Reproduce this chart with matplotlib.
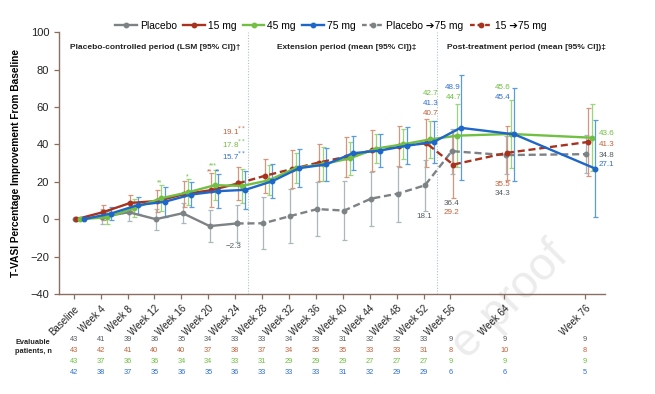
import matplotlib
matplotlib.use("Agg")
import matplotlib.pyplot as plt
import matplotlib.transforms as mtransforms
import numpy as np

plt.rcParams['font.family'] = ['Liberation Sans', 'DejaVu Sans']

# ---------------- data ----------------
weeks = [0, 4, 8, 12, 16, 20, 24, 28, 32, 36, 40, 44, 48, 52, 56, 64, 76]
tick_labels = ["Baseline"] + [f"Week {w}" for w in weeks[1:]]

weeks_pc = [0, 4, 8, 12, 16, 20, 24]
weeks_ext = [24, 28, 32, 36, 40, 44, 48, 52, 56, 64, 76]

placebo = [0, 1.2, 3.7, 0.0, 3.2, -3.7, -2.3]
placebo_err = [0, 4, 4.9, 5.6, 5.4, 8.6, 9.8]
pbo75 = [-2.3, -2.2, 1.7, 5.4, 4.6, 11.0, 13.7, 18.1, 36.4, 34.3, 34.8]
pbo75_err = [0, 14, 14.5, 14.5, 16, 14.5, 15, 13.5, 12, 10, 10]

mg15 = [0, 3.8, 8.7, 9.7, 13.4, 15.5, 19.1]
mg15_err = [0, 4, 4.5, 6, 7, 9, 9]
mg15_75 = [19.1, 23.2, 26.8, 30.3, 33.3, 36.9, 39.0, 40.7, 29.2, 35.5, 41.3]
mg15_75_err = [0, 9, 10, 10, 10.5, 11, 11, 13, 18, 14.5, 18]

mg45 = [0, 1.0, 6.0, 11.2, 14.4, 18.2, 17.8, 20.8, 27.4, 29.4, 32.5, 37.8, 40.1, 42.7, 44.7, 45.6, 43.6]
mg45_err = [0, 3.5, 5, 7, 7, 8, 9, 8, 8, 9, 9, 8, 8, 10, 17, 18, 18]

mg75 = [0, 3.0, 7.5, 9.3, 13.2, 15.0, 15.7, 20.3, 27.3, 29.3, 35.3, 36.7, 39.3, 41.3, 48.9, 45.4, 27.1]
mg75_err = [0, 3.5, 4.5, 8, 6.5, 9, 10, 9, 10, 9, 9, 9, 10, 11, 28, 25, 26]

n_placebo = [43, 41, 39, 36, 35, 34, 33, 33, 34, 33, 31, 32, 32, 33, 9, 9, 9]
n_15 = [43, 42, 41, 40, 40, 37, 38, 37, 34, 35, 35, 33, 33, 31, 8, 10, 8]
n_45 = [43, 37, 36, 36, 34, 34, 33, 31, 29, 29, 29, 27, 27, 27, 9, 9, 9]
n_75 = [42, 38, 37, 35, 36, 35, 36, 33, 33, 33, 31, 32, 29, 29, 6, 6, 5]

# ---------------- styles ----------------
C_GRAY, E_GRAY, T_GRAY = "#7d8284", "#a9b8bb", "#505a5e"
C_RED, E_RED, T_RED = "#a8321e", "#d4977e", "#c0603a"
C_GREEN, E_GREEN, T_GREEN = "#72c043", "#9ad67a", "#6cbf3e"
C_BLUE, E_BLUE, T_BLUE = "#1f66c9", "#5a9ae0", "#2f6fd0"
SPINE = "#8a6e62"

fig = plt.figure(figsize=(6.55, 3.94), dpi=100)

# watermark (behind everything)
fig.text(545 / 655, 1 - 232 / 394, "e-proof", fontsize=33, color='#ececec',
         rotation=45, ha='right', va='top', rotation_mode='anchor', zorder=0)

ax = fig.add_axes([0.090, 0.254, 0.834, 0.664])
ax.set_zorder(1)
ax.patch.set_alpha(0)

def series(x, y, err, off, color, ecolor, ls, skip_first=False):
    x = np.array(x, float) + off
    y = np.array(y, float)
    e = np.array(err, float)
    ax.plot(x, y, color=color, lw=1.7, ls=ls, marker='o', ms=3.2, zorder=3,
            dashes=(3, 1.6) if ls == '--' else (None, None))
    sl = slice(1, None) if skip_first else slice(None)
    mask = e[sl] > 0
    ax.errorbar(x[sl][mask], y[sl][mask], yerr=e[sl][mask], fmt='none',
                ecolor=ecolor, elinewidth=0.9, capsize=1.8, capthick=0.9, zorder=2)

series(weeks_pc, placebo, placebo_err, 0.2, C_GRAY, E_GRAY, '-')
series(weeks_ext, pbo75, pbo75_err, 0.2, C_GRAY, E_GRAY, '--', skip_first=True)
series(weeks_pc, mg15, mg15_err, 0.4, C_RED, E_RED, '-')
series(weeks_ext, mg15_75, mg15_75_err, 0.4, C_RED, E_RED, '--', skip_first=True)
series(weeks, mg45, mg45_err, 1.0, C_GREEN, E_GREEN, '-')
series(weeks, mg75, mg75_err, 1.5, C_BLUE, E_BLUE, '-')

# period separators
for xv in (25.9, 54.0):
    ax.axvline(xv, color="#a9c4cc", lw=0.8, ls=(0, (1, 1.5)), zorder=1)

ax.set_xlim(-2.2, 79.0)
ax.set_ylim(-40, 100)
ax.set_yticks(range(-40, 101, 20))
ax.set_yticklabels([str(v).replace('-', '\u2212') for v in range(-40, 101, 20)], fontsize=8)
ax.set_xticks(weeks)
ax.set_xticklabels(tick_labels, rotation=45, ha='right', rotation_mode='anchor', fontsize=7)
for s in ('top', 'right'):
    ax.spines[s].set_visible(False)
for s in ('left', 'bottom'):
    ax.spines[s].set_color(SPINE)
    ax.spines[s].set_linewidth(1.0)
ax.tick_params(colors=SPINE, labelcolor='#222222', length=3.5, width=0.9)
ax.set_ylabel("T-VASI Percentage Improvement From Baseline", fontsize=7.3,
              fontweight='bold', labelpad=7)

# period headings
hdr = dict(fontsize=6, fontweight='bold', color='#222222', va='center')
ax.text(-0.6, 92, "Placebo-controlled period (LSM [95% CI])\u2020", **hdr)
ax.text(30.2, 92, "Extension period (mean [95% CI])\u2021", **hdr)
ax.text(55.5, 92, "Post-treatment period (mean [95% CI])\u2021", **hdr)

# value annotations
fs = 5.8
def lab(x, y, s, c, ha='center'):
    ax.text(x, y, s, color=c, fontsize=fs, ha=ha, va='center')

lab(25.7, 47.2, r"19.1$^{**}$", T_RED, ha='right')
lab(25.7, 40.4, r"17.8$^{**}$", T_GREEN, ha='right')
lab(25.7, 33.8, r"15.7$^{**}$", T_BLUE, ha='right')
lab(23.7, -14.7, "\u22122.3", T_GRAY)
lab(53.0, 67.5, "42.7", T_GREEN)
lab(53.0, 62.1, "41.3", T_BLUE)
lab(53.0, 56.8, "40.7", T_RED)
lab(56.4, 70.3, "48.9", T_BLUE)
lab(56.4, 65.3, "44.7", T_GREEN)
lab(63.8, 70.3, "45.6", T_GREEN)
lab(63.8, 65.3, "45.4", T_BLUE)
lab(78.0, 45.6, "43.6", T_GREEN, ha='left')
lab(78.0, 40.1, "41.3", T_RED, ha='left')
lab(78.0, 34.3, "34.8", T_GRAY, ha='left')
lab(78.0, 29.0, "27.1", T_BLUE, ha='left')
lab(63.8, 18.4, "35.5", T_RED)
lab(63.8, 13.5, "34.3", T_GRAY)
lab(56.2, 8.5, "36.4", T_GRAY)
lab(56.2, 3.7, "29.2", T_RED)
lab(52.1, 1.3, "18.1", T_GRAY)

# significance asterisks
ast = dict(fontsize=5, ha='center', va='center')
ax.text(12.8, 19.2, "**", color=T_GREEN, **ast)
ax.text(16.9, 22.7, "*", color=T_GREEN, **ast)
ax.text(20.7, 28.4, "***", color=T_GREEN, **ast)
ax.text(20.2, 25.4, "**", color=T_RED, **ast)
ax.text(21.4, 25.4, "**", color=T_BLUE, **ast)

# evaluable patients table
trans = mtransforms.blended_transform_factory(ax.transData, ax.transAxes)
rows = [(n_placebo, T_GRAY), (n_15, T_RED), (n_45, T_GREEN), (n_75, T_BLUE)]
row_y = [-0.176, -0.218, -0.260, -0.302]
for (vals, col), yy in zip(rows, row_y):
    for w, v in zip(weeks, vals):
        ax.text(w, yy, str(v), transform=trans, fontsize=5.3, color=col,
                ha='center', va='center')
fig.text(0.023, 1 - 347 / 394, "Evaluable\npatients, n", fontsize=5.3,
         fontweight='bold', ha='left', va='center', linespacing=1.5, color='#222222')

# legend
handles = [
    plt.Line2D([], [], color=C_GRAY, lw=1.7, marker='o', ms=3.2),
    plt.Line2D([], [], color=C_RED, lw=1.7, marker='o', ms=3.2),
    plt.Line2D([], [], color=C_GREEN, lw=1.7, marker='o', ms=3.2),
    plt.Line2D([], [], color=C_BLUE, lw=1.7, marker='o', ms=3.2),
    plt.Line2D([], [], color=C_GRAY, lw=1.7, ls='--', dashes=(2, 1.2), marker='o', ms=3.2),
    plt.Line2D([], [], color=C_RED, lw=1.7, ls='--', dashes=(2, 1.2), marker='o', ms=3.2),
]
names = ["Placebo", "15 mg", "45 mg", "75 mg", "Placebo \u279475 mg", "15 \u279475 mg"]
fig.legend(handles, names, loc='center', bbox_to_anchor=(0.505, 0.934), ncol=6,
           frameon=False, handlelength=2.1, handletextpad=0.3,
           columnspacing=0.6, prop={'family': ['Liberation Sans', 'DejaVu Sans'], 'size': 7.4})

fig.savefig("out.png", dpi=100)
